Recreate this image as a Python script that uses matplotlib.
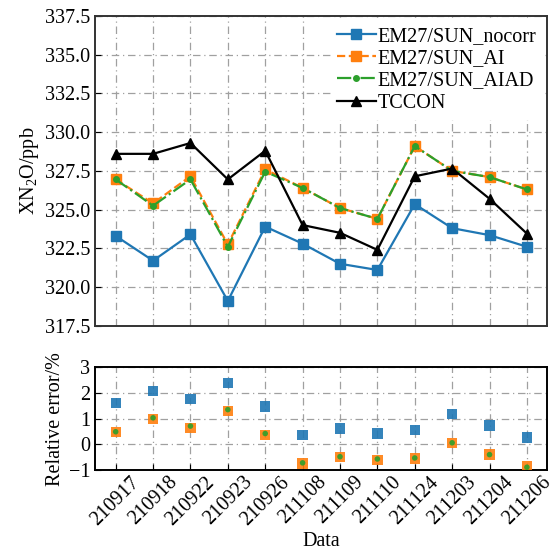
import matplotlib
matplotlib.use("Agg")
import matplotlib.pyplot as plt
import numpy as np

plt.rcParams["font.family"] = ["Liberation Serif", "DejaVu Serif"]
plt.rcParams["mathtext.fontset"] = "custom"
plt.rcParams["mathtext.rm"] = "Liberation Serif"
plt.rcParams["mathtext.it"] = "Liberation Serif:italic"
plt.rcParams["font.size"] = 14.5
plt.rcParams["axes.unicode_minus"] = True

dates = ["210917", "210918", "210922", "210923", "210926", "211108",
         "211109", "211110", "211124", "211203", "211204", "211206"]

# XN2O column averages (ppb)
nocorr = [323.3, 321.7, 323.4, 319.1, 323.9, 322.8, 321.5, 321.1, 325.35, 323.8, 323.35, 322.6]
ai     = [326.95, 325.4, 327.15, 322.75, 327.6, 326.4, 325.1, 324.4, 329.1, 327.5, 327.1, 326.3]
aiad   = [326.95, 325.25, 326.95, 322.6, 327.45, 326.4, 325.1, 324.4, 329.1, 327.5, 327.1, 326.3]
tccon  = [328.6, 328.6, 329.3, 326.95, 328.8, 324.0, 323.5, 322.4, 327.15, 327.65, 325.7, 323.45]

# relative error against TCCON (%)
err_nocorr = [1.6, 2.08, 1.75, 2.39, 1.47, 0.37, 0.61, 0.42, 0.56, 1.18, 0.73, 0.26]
err_ai     = [0.49, 0.98, 0.64, 1.29, 0.36, -0.74, -0.5, -0.6, -0.55, 0.04, -0.39, -0.85]
err_aiad   = [0.49, 1.03, 0.71, 1.35, 0.42, -0.72, -0.48, -0.57, -0.53, 0.06, -0.4, -0.89]

c_blue, c_orange, c_green = "#1f77b4", "#ff7f0e", "#2ca02c"
x = np.arange(len(dates))

fig = plt.figure(figsize=(5.53, 5.53), dpi=100)
ax1 = fig.add_axes([0.172, 0.411, 0.818, 0.560])
ax2 = fig.add_axes([0.172, 0.150, 0.818, 0.186], sharex=ax1)

grid_kw = dict(color="#a0a0a0", linestyle=(0, (6, 3, 1, 3)), linewidth=0.9)

ax1.plot(x, nocorr, color=c_blue, marker="s", markersize=7, linewidth=1.6,
         label="EM27/SUN_nocorr")
ax1.plot(x, ai, color=c_orange, marker="s", markersize=7, linewidth=1.6,
         linestyle="--", label="EM27/SUN_AI")
ax1.plot(x, aiad, color=c_green, marker="o", markersize=4, linewidth=1.6,
         linestyle="-.", label="EM27/SUN_AIAD")
ax1.plot(x, tccon, color="black", marker="^", markersize=7, linewidth=1.6,
         label="TCCON")

ax1.set_ylim(317.5, 337.5)
ax1.set_yticks(np.arange(317.5, 337.6, 2.5))
ax1.yaxis.set_major_formatter(matplotlib.ticker.FormatStrFormatter("%.1f"))
ax1.set_ylabel("XN$_2$O/ppb", labelpad=3)
ax1.grid(True, **grid_kw)
ax1.tick_params(axis="y", direction="in", length=4)
ax1.tick_params(axis="x", length=0, labelbottom=False)
for s in ax1.spines.values():
    s.set_color("#333333")
    s.set_linewidth(1.4)

leg = ax1.legend(loc="upper right", handlelength=1.9, handletextpad=0.1,
                 labelspacing=0.15, borderaxespad=0.25, fancybox=False,
                 framealpha=1.0, edgecolor="white", borderpad=0.3)

ax2.scatter(x, err_nocorr, marker="s", s=55, color=c_blue, alpha=0.9,
            edgecolors="none", zorder=3)
ax2.scatter(x, err_ai, marker="s", s=55, color=c_orange, alpha=0.9,
            edgecolors="none", zorder=3)
ax2.scatter(x, err_aiad, marker="o", s=16, color=c_green, alpha=0.9,
            edgecolors="none", zorder=4)
ax2.set_ylim(-1, 3)
ax2.set_yticks([-1, 0, 1, 2, 3])
ax2.set_ylabel("Relative error/%", labelpad=3)
ax2.set_xlabel("Data", labelpad=2)
ax2.grid(True, **grid_kw)
ax2.set_xticks(x)
ax2.set_xticklabels(dates, rotation=45, ha="center")
ax2.tick_params(direction="in", length=4)
ax2.tick_params(axis="x", pad=2)
for s in ax2.spines.values():
    s.set_color("black")
    s.set_linewidth(1.4)

fig.savefig("out.png", dpi=100)
